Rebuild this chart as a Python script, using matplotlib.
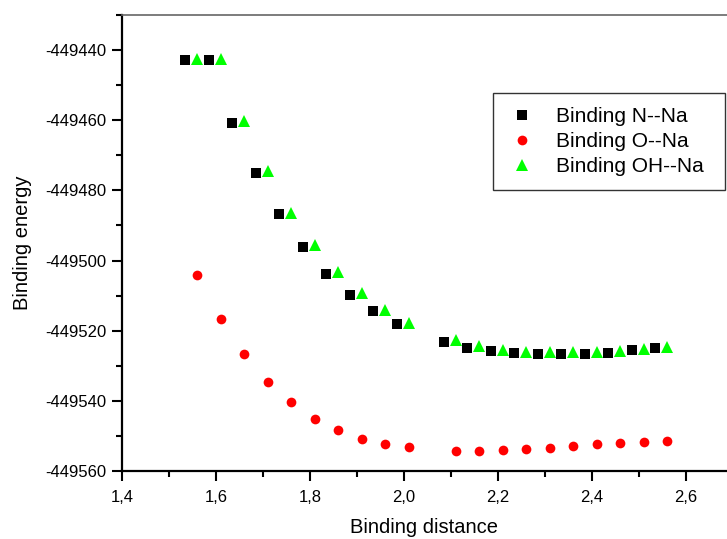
import matplotlib
matplotlib.use("Agg")
import matplotlib.pyplot as plt
from matplotlib.ticker import MultipleLocator, FuncFormatter

plt.rcParams['font.family'] = ['Liberation Sans', 'DejaVu Sans']

# Data
x_n = [1.535, 1.585, 1.635, 1.685, 1.735, 1.785, 1.835, 1.885, 1.935, 1.985,
       2.085, 2.135, 2.185, 2.235, 2.285, 2.335, 2.385, 2.435, 2.485, 2.535]
y_n = [-449442.8, -449442.8, -449460.7, -449475.0, -449486.6, -449496.0, -449503.7,
       -449509.7, -449514.5, -449518.2, -449523.2, -449524.8, -449525.8, -449526.5,
       -449526.7, -449526.7, -449526.7, -449526.3, -449525.6, -449525.0]

x_o = [1.56, 1.61, 1.66, 1.71, 1.76, 1.81, 1.86, 1.91, 1.96, 2.01,
       2.11, 2.16, 2.21, 2.26, 2.31, 2.36, 2.41, 2.46, 2.51, 2.56]
y_o = [-449504.1, -449516.8, -449526.6, -449534.5, -449540.4, -449545.3, -449548.4,
       -449550.8, -449552.2, -449553.2, -449554.2, -449554.2, -449554.1, -449553.7,
       -449553.5, -449552.9, -449552.3, -449552.0, -449551.8, -449551.4]

x_oh = [1.56, 1.61, 1.66, 1.71, 1.76, 1.81, 1.86, 1.91, 1.96, 2.01,
        2.11, 2.16, 2.21, 2.26, 2.31, 2.36, 2.41, 2.46, 2.51, 2.56]
y_oh = [-449442.5, -449442.5, -449460.3, -449474.6, -449486.4, -449495.7, -449503.4,
        -449509.3, -449514.2, -449517.8, -449522.7, -449524.4, -449525.6, -449526.2,
        -449526.2, -449526.2, -449526.2, -449525.8, -449525.2, -449524.6]

labels = ["Binding N--Na", "Binding O--Na", "Binding OH--Na"]

fig = plt.figure(figsize=(7.27, 5.39), dpi=100)
ax = fig.add_axes([122/727, 68/539, 605/727, 456/539])

ax.plot(x_n, y_n, linestyle='none', marker='s', ms=6.5, color='black', mew=0, label=labels[0])
ax.plot(x_o, y_o, linestyle='none', marker='o', ms=7, color='#ff0000', mew=0, label=labels[1])
ax.plot(x_oh, y_oh, linestyle='none', marker='^', ms=8, color='#00ff00', mew=0, label=labels[2])

ax.set_xlim(1.4, 1.4 + 605/470)
ax.set_ylim(-449560, -449430)

ax.xaxis.set_major_locator(MultipleLocator(0.2))
ax.xaxis.set_minor_locator(MultipleLocator(0.1))
ax.yaxis.set_major_locator(MultipleLocator(20))
ax.yaxis.set_minor_locator(MultipleLocator(10))
ax.xaxis.set_major_formatter(FuncFormatter(lambda v, p: f"{v:.1f}".replace('.', ',')))
ax.yaxis.set_major_formatter(FuncFormatter(lambda v, p: f"{v:.0f}"))

ax.tick_params(which='major', direction='out', length=7, width=1.5, labelsize=12, pad=4)
ax.tick_params(axis='x', which='major', pad=7)
ax.tick_params(which='minor', direction='out', length=4, width=1.5)
ax.tick_params(top=False, right=False, which='both')

for s in ['left', 'bottom']:
    ax.spines[s].set_linewidth(1.6)
    ax.spines[s].set_color('black')
ax.spines['top'].set_linewidth(1.2)
ax.spines['top'].set_color('#666666')
ax.spines['right'].set_visible(False)

ax.set_xlabel("Binding distance", fontsize=14.5, labelpad=9)
ax.set_ylabel("Binding energy", fontsize=14.5, labelpad=10)

x0 = (493 - 122) / 605
y1 = (471 - 93) / 456
w = (725 - 493) / 605
leg = ax.legend(loc='upper left', bbox_to_anchor=(x0, y1 - 0.3, w, 0.3), mode='expand',
                borderaxespad=0, fontsize=15, frameon=True, fancybox=False,
                edgecolor='black', labelspacing=0.28, handletextpad=0.9,
                borderpad=0.68, handlelength=1.42)
leg.get_frame().set_linewidth(1.0)

fig.savefig("out.png", dpi=100)
